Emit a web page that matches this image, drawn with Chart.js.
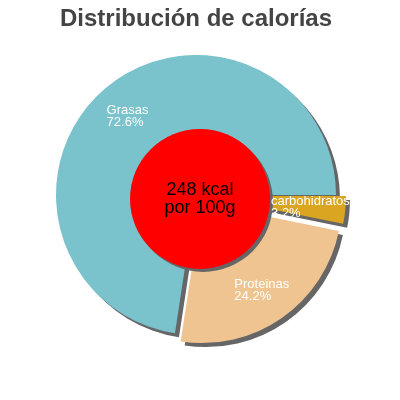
<!DOCTYPE html>
<html>
<head>
<meta charset="utf-8">
<script src="https://cdn.jsdelivr.net/npm/chart.js@4"></script>
<style>
html,body{margin:0;padding:0;background:#fff;}
#wrap{width:400px;height:400px;position:relative;}
</style>
</head>
<body>
<div id="wrap"><canvas id="c" width="400" height="400"></canvas></div>
<script>
// ---- data ----
const categories = ['Grasas', 'carbohidratos', 'Proteinas'];
const values = [72.6, 3.2, 24.2];
const colors = ['#7ac3cc', '#daa520', '#efc490'];
const titleText = 'Distribución de calorías';
const centerLines = ['248 kcal', 'por 100g'];

// ---- style config ----
const FONT = "'Liberation Sans', Arial, Helvetica, sans-serif";
const EXPLODE = { carbohidratos: 10, Proteinas: 10 };
const SHADOW = '#666666';

const total = values.reduce((a, b) => a + b, 0);
const rotation = 90 + 360 * (1 - values[0] / total);

const pieFx = {
  id: 'pieFx',
  afterDatasetUpdate(chart, args) {
    const meta = chart.getDatasetMeta(args.index);
    meta.data.forEach((arc, i) => {
      const d = EXPLODE[categories[i]] || 0;
      const mid = (arc.startAngle + arc.endAngle) / 2;
      arc.x += Math.cos(mid) * d;
      arc.y += Math.sin(mid) * d;
    });
  },
  beforeDatasetsDraw(chart) {
    const ctx = chart.ctx;
    ctx.save();
    ctx.shadowColor = SHADOW;
    ctx.shadowOffsetX = 4;
    ctx.shadowOffsetY = 4;
    ctx.shadowBlur = 0;
  },
  afterDatasetsDraw(chart) {
    const ctx = chart.ctx;
    ctx.restore();
    const meta = chart.getDatasetMeta(0);
    const base = meta.data[0];
    const R = base.outerRadius;
    // red centre disc
    ctx.save();
    ctx.shadowColor = SHADOW;
    ctx.shadowOffsetX = 3;
    ctx.shadowOffsetY = 3;
    ctx.shadowBlur = 0;
    const cx = base.x + 4, cy = base.y + 4;
    ctx.beginPath();
    ctx.arc(cx, cy, R * 0.5, 0, Math.PI * 2);
    ctx.fillStyle = '#ff0000';
    ctx.fill();
    ctx.restore();
    // centre text
    ctx.save();
    ctx.fillStyle = '#000';
    ctx.font = '18px ' + FONT;
    ctx.textAlign = 'center';
    ctx.textBaseline = 'alphabetic';
    ctx.fillText(centerLines[0], cx, cy - 4);
    ctx.fillText(centerLines[1], cx, cy + 14);
    ctx.restore();
    // slice labels
    ctx.save();
    ctx.fillStyle = '#fff';
    ctx.font = '13px ' + FONT;
    ctx.textAlign = 'left';
    ctx.textBaseline = 'alphabetic';
    meta.data.forEach((arc, i) => {
      const mid = (arc.startAngle + arc.endAngle) / 2;
      const r = R * 0.75;
      const lx = arc.x + Math.cos(mid) * r;
      const ly = arc.y + Math.sin(mid) * r;
      const l1 = categories[i];
      const l2 = (values[i] / total * 100).toFixed(1) + '%';
      const w = Math.max(ctx.measureText(l1).width, ctx.measureText(l2).width);
      const x0 = lx - w / 2;
      const b1 = ly - 1;
      ctx.fillText(l1, x0, b1);
      ctx.fillText(l2, x0, b1 + 12);
    });
    ctx.restore();
  }
};

new Chart(document.getElementById('c'), {
  type: 'pie',
  data: {
    labels: categories,
    datasets: [{
      data: values,
      backgroundColor: colors,
      borderWidth: 0,
      hoverOffset: 0
    }]
  },
  options: {
    responsive: false,
    devicePixelRatio: 1,
    animation: false,
    radius: 140,
    rotation: rotation,
    layout: { padding: { left: 0, right: 8, top: 0, bottom: 44 } },
    plugins: {
      legend: { display: false },
      tooltip: { enabled: false },
      title: {
        display: true,
        text: titleText,
        color: '#444444',
        font: { family: FONT, size: 24, weight: 'bold' },
        padding: { top: 5, bottom: 0 }
      }
    }
  },
  plugins: [pieFx]
});
</script>
</body>
</html>
